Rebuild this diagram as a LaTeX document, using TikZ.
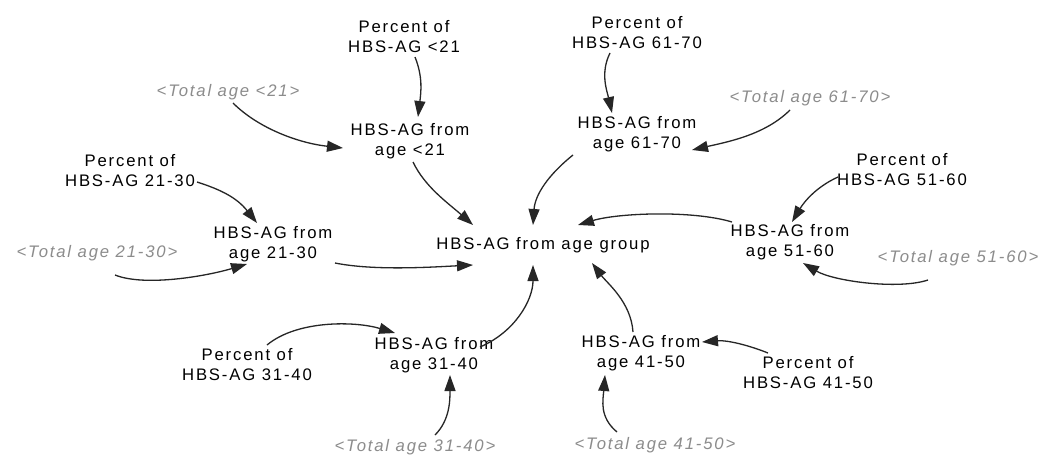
\documentclass[tikz,border=0pt]{standalone}
\usepackage{fontspec}
\setmainfont{Liberation Sans}[LetterSpace=11]
\usetikzlibrary{arrows.meta,calc}

\tikzset{
  var/.style={align=center, inner sep=0pt, text=black,
    font=\fontsize{16.7}{20}\selectfont},
  shadowvar/.style={inner sep=0pt, text=black!45,
    font=\fontsize{16.7}{20}\selectfont\itshape},
  link/.style={draw=black!85, line width=1.3pt,
    -{Triangle[length=16pt,width=11pt]}},
}

\begin{document}
\begin{tikzpicture}[x=1pt, y=-1pt]
\useasboundingbox (0,0) rectangle (1046,455);
\fill[white] (0,0) rectangle (1046,455);

% central variable
\node[var] (grp) at (543,245) {HBS-AG from age group};

% age < 21
\node[var] (p21) at (404,37) {Percent of\\HBS-AG <21};
\node[shadowvar] (t21) at (228,92) {<Total age <21>};
\node[var] (h21) at (410,141) {HBS-AG from\\age <21};

% age 21-30
\node[var] (p2130) at (130,171) {Percent of\\HBS-AG 21-30};
\node[var] (h2130) at (273,244) {HBS-AG from\\age 21-30};
\node[shadowvar] (t2130) at (97,253) {<Total age 21-30>};

% age 31-40
\node[var] (p3140) at (247,365) {Percent of\\HBS-AG 31-40};
\node[var] (h3140) at (434,355) {HBS-AG from\\age 31-40};
\node[shadowvar] (t3140) at (415,447) {<Total age 31-40>};

% age 41-50
\node[var] (h4150) at (641,353) {HBS-AG from\\age 41-50};
\node[var] (p4150) at (808,373) {Percent of\\HBS-AG 41-50};
\node[shadowvar] (t4150) at (655,445) {<Total age 41-50>};

% age 51-60
\node[var] (p51) at (902,170) {Percent of\\HBS-AG 51-60};
\node[var] (h51) at (790,242) {HBS-AG from\\age 51-60};
\node[shadowvar] (t51) at (958,258) {<Total age 51-60>};

% age 61-70
\node[var] (p61) at (637,33) {Percent of\\HBS-AG 61-70};
\node[shadowvar] (t61) at (810,98) {<Total age 61-70>};
\node[var] (h61) at (637,134) {HBS-AG from\\age 61-70};

% links into the age-group variables
\draw[link] ($(p21)+(11,20)$) .. controls +(8,20) and +(3,-25) .. ($(h21)+(8,-24)$);
\draw[link] ($(t21)+(5,11)$) .. controls +(25,25) and +(-45,-5) .. ($(h21)+(-67,7)$);

\draw[link] ($(p2130)+(67,11)$) .. controls +(25,8) and +(-20,-25) .. ($(h2130)+(-16,-21)$);
\draw[link] ($(t2130)+(18,22)$) .. controls +(30,12) and +(-40,12) .. ($(h2130)+(-26,20)$);

\draw[link] ($(p3140)+(20,-20)$) .. controls +(30,-25) and +(-40,-12) .. ($(h3140)+(-39,-22)$);
\draw[link] ($(t3140)+(20,-12)$) .. controls +(15,-15) and +(0,25) .. ($(h3140)+(16,20)$);

\draw[link] ($(p4150)+(-40,-20)$) .. controls +(-20,-8) and +(25,-2) .. ($(h4150)+(61,-11)$);
\draw[link] ($(t4150)+(-38,-13)$) .. controls +(-18,-15) and +(-2,25) .. ($(h4150)+(-36,22)$);

\draw[link] ($(p51)+(-64,7)$) .. controls +(-22,10) and +(12,-20) .. ($(h51)+(2,-20)$);
\draw[link] ($(t51)+(-30,22)$) .. controls +(-30,10) and +(30,18) .. ($(h51)+(13,21)$);

\draw[link] ($(p61)+(-27,20)$) .. controls +(-10,20) and +(-5,-22) .. ($(h61)+(-25,-21)$);
\draw[link] ($(t61)+(-20,12)$) .. controls +(-25,25) and +(35,-8) .. ($(h61)+(55,16)$);

% links into the age-group total
\draw[link] ($(h21)+(3,21)$) .. controls +(12,25) and +(-25,-22) .. ($(grp)+(-70,-20)$);
\draw[link] ($(h2130)+(62,19)$) .. controls +(40,8) and +(-40,2) .. ($(grp)+(-70,20)$);
\draw[link] ($(h3140)+(46,-8)$) .. controls +(35,-15) and +(0,35) .. ($(grp)+(-10,20)$);
\draw[link] ($(h4150)+(-8,-21)$) .. controls +(-2,-30) and +(15,20) .. ($(grp)+(49,18)$);
\draw[link] ($(h51)+(-58,-20)$) .. controls +(-40,-12) and +(40,-12) .. ($(grp)+(35,-20)$);
\draw[link] ($(h61)+(-64,21)$) .. controls +(-25,20) and +(2,-30) .. ($(grp)+(-10,-20)$);
\end{tikzpicture}
\end{document}
